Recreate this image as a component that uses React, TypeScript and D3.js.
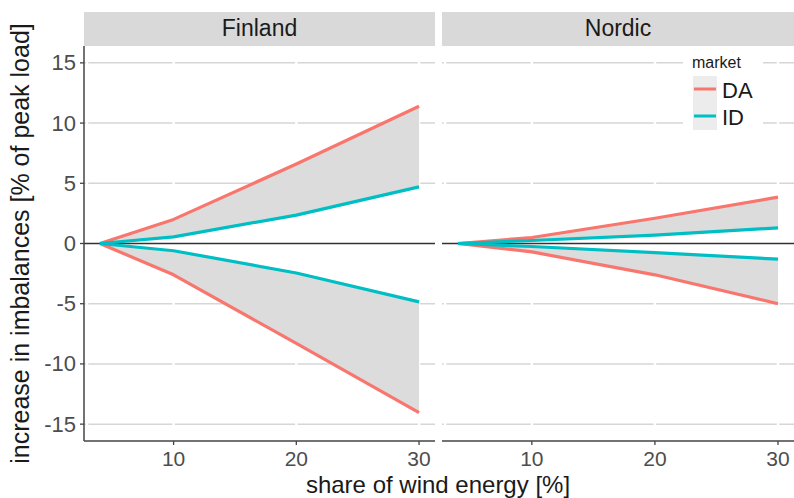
import React from "react";
import * as d3 from "d3";

const shares = [4, 10, 20, 30];
const facets = ["Finland", "Nordic"];
const finlandDAUp = [0, 2.0, 6.6, 11.4];
const finlandIDUp = [0, 0.55, 2.36, 4.7];
const finlandIDLow = [0, -0.6, -2.45, -4.85];
const finlandDALow = [0, -2.6, -8.3, -14.05];
const nordicDAUp = [0, 0.5, 2.1, 3.85];
const nordicIDUp = [0, 0.25, 0.7, 1.3];
const nordicIDLow = [0, -0.25, -0.75, -1.3];
const nordicDALow = [0, -0.7, -2.6, -5.0];
const yTicks = [-15, -10, -5, 0, 5, 10, 15];
const xTicks = [10, 20, 30];
const markets = ["DA", "ID"];
const colors = { DA: "#F8766D", ID: "#00BFC4" };

const seriesByFacet: Record<string, { daUp: number[]; idUp: number[]; idLow: number[]; daLow: number[] }> = {
  Finland: { daUp: finlandDAUp, idUp: finlandIDUp, idLow: finlandIDLow, daLow: finlandDALow },
  Nordic: { daUp: nordicDAUp, idUp: nordicIDUp, idLow: nordicIDLow, daLow: nordicDALow },
};

const FONT = "'Liberation Sans', Arial, sans-serif";

export default function App() {
  const W = 794, H = 498;
  const top = 46, bottom = 441;
  const panels = [
    { name: "Finland", x0: 84, x1: 435 },
    { name: "Nordic", x0: 442, x1: 794 },
  ];
  const y = d3.scaleLinear().domain([-16.4, 16.4]).range([bottom, top]);
  const xDomain: [number, number] = [2.7, 31.3];

  return (
    <svg width={W} height={H} style={{ position: "absolute", left: 0, top: 0, background: "#fff" }} fontFamily={FONT}>
      <rect width={W} height={H} fill="#fff" />
      {panels.map((p, pi) => {
        const x = d3.scaleLinear().domain(xDomain).range([p.x0, p.x1]);
        const s = seriesByFacet[p.name];
        const pts = (arr: number[]) => shares.map((v, i) => [v, arr[i]] as [number, number]);
        const area = d3.area<[number, number, number]>()
          .x((d) => x(d[0]))
          .y0((d) => y(d[1]))
          .y1((d) => y(d[2]));
        const line = d3.line<[number, number]>().x((d) => x(d[0])).y((d) => y(d[1]));
        const upRibbon = shares.map((v, i) => [v, s.idUp[i], s.daUp[i]] as [number, number, number]);
        const lowRibbon = shares.map((v, i) => [v, s.daLow[i], s.idLow[i]] as [number, number, number]);
        return (
          <g key={p.name}>
            {/* strip */}
            <rect x={p.x0} y={12} width={p.x1 - p.x0} height={top - 12} fill="#d9d9d9" />
            <text x={(p.x0 + p.x1) / 2} y={36} textAnchor="middle" fontSize={23} fill="#1a1a1a">{facets[pi]}</text>
            {/* grid */}
            {yTicks.filter((t) => t !== 0).map((t) => (
              <line key={t} x1={p.x0} x2={p.x1} y1={y(t)} y2={y(t)} stroke="#d6d6d6" strokeWidth={1.5} />
            ))}
            {xTicks.map((t) => (
              <line key={t} x1={x(t)} x2={x(t)} y1={top} y2={bottom} stroke="#fff" strokeWidth={2.5} />
            ))}
            <line x1={p.x0 + 3} x2={p.x0 + 3} y1={top} y2={bottom} stroke="#fff" strokeWidth={2.5} />
            {/* ribbons */}
            <path d={area(upRibbon) || ""} fill="#dcdcdc" />
            <path d={area(lowRibbon) || ""} fill="#dcdcdc" />
            {/* zero line */}
            <line x1={p.x0} x2={p.x1} y1={y(0)} y2={y(0)} stroke="#333" strokeWidth={1.3} />
            {/* lines */}
            <path d={line(pts(s.daUp)) || ""} fill="none" stroke={colors.DA} strokeWidth={3.2} strokeLinejoin="round" />
            <path d={line(pts(s.daLow)) || ""} fill="none" stroke={colors.DA} strokeWidth={3.2} strokeLinejoin="round" />
            <path d={line(pts(s.idUp)) || ""} fill="none" stroke={colors.ID} strokeWidth={3.2} strokeLinejoin="round" />
            <path d={line(pts(s.idLow)) || ""} fill="none" stroke={colors.ID} strokeWidth={3.2} strokeLinejoin="round" />
            {/* x axis */}
            <line x1={p.x0} x2={p.x1} y1={bottom} y2={bottom} stroke="#444" strokeWidth={1.5} />
            {xTicks.map((t) => (
              <g key={t}>
                <line x1={x(t)} x2={x(t)} y1={bottom} y2={bottom + 4} stroke="#444" strokeWidth={1.3} />
                <text x={x(t)} y={bottom + 25} textAnchor="middle" fontSize={21} fill="#4d4d4d">{t}</text>
              </g>
            ))}
            {pi === 0 && (
              <g>
                <line x1={p.x0} x2={p.x0} y1={top} y2={bottom} stroke="#444" strokeWidth={1.5} />
                {yTicks.map((t) => (
                  <g key={t}>
                    <line x1={p.x0 - 4} x2={p.x0} y1={y(t)} y2={y(t)} stroke="#444" strokeWidth={1.3} />
                    <text x={p.x0 - 8} y={y(t) + 7.5} textAnchor="end" fontSize={22} fill="#4d4d4d">{t}</text>
                  </g>
                ))}
              </g>
            )}
          </g>
        );
      })}
      {/* legend */}
      <g>
        <rect x={683} y={52} width={80} height={80} fill="#fff" />
        <text x={692} y={68} fontSize={16} fill="#1a1a1a">market</text>
        {markets.map((m, i) => (
          <g key={m}>
            <rect x={693} y={76 + i * 27} width={24} height={27} fill="#ececec" />
            <line x1={694} x2={716} y1={89 + i * 27} y2={89 + i * 27} stroke={colors[m as "DA" | "ID"]} strokeWidth={3} />
            <text x={722} y={98 + i * 27} fontSize={22} fill="#1a1a1a">{m}</text>
          </g>
        ))}
      </g>
      {/* axis titles */}
      <text x={438} y={493} textAnchor="middle" fontSize={24} fill="#1a1a1a">share of wind energy [%]</text>
      <text transform={`translate(29, ${(top + bottom) / 2}) rotate(-90)`} textAnchor="middle" fontSize={25} fill="#1a1a1a">increase in imbalances [% of peak load]</text>
    </svg>
  );
}
